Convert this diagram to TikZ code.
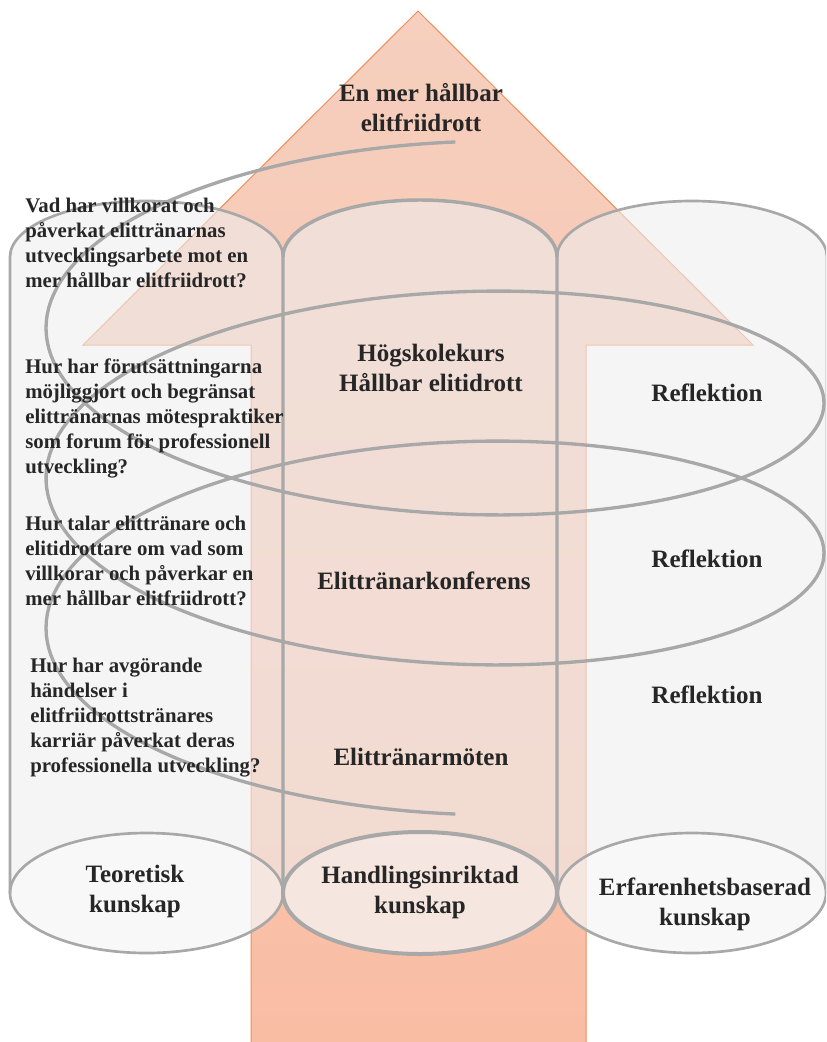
\documentclass[tikz,border=0pt]{standalone}
\usepackage{fontspec}
\setmainfont{Liberation Serif}
\begin{document}
\begin{tikzpicture}[x=0.75pt,y=-0.75pt]
\definecolor{ink}{RGB}{38,38,38}
\definecolor{rim}{RGB}{168,168,168}
\definecolor{arrowtop}{RGB}{246,207,190}
\definecolor{arrowbot}{RGB}{249,189,164}
\definecolor{arrowedge}{RGB}{240,140,90}
\definecolor{cylgray}{RGB}{238,238,238}
\tikzset{
  cylfill/.style={fill=cylgray, fill opacity=0.58},
  basefill/.style={fill=white, fill opacity=0.35},
  siderim/.style={draw=rim, line width=2pt},
  midrim/.style={draw=rim, line width=2.6pt},
  spiralline/.style={draw=rim, line width=2.5pt},
  label/.style={text=ink, inner sep=0pt, font=\bfseries\fontsize{18.75}{22.5}\selectfont, align=center, anchor=base},
  question/.style={text=ink, inner sep=0pt, font=\bfseries\fontsize{15.6}{18.75}\selectfont, align=left, anchor=base west},
}
\useasboundingbox (0,0) rectangle (826,1042);
\begin{scope}
\clip (0,0) rectangle (826,1042);
% upward arrow
\shade[top color=arrowtop, bottom color=arrowbot]
  (418,11) -- (753,345) -- (586,345) -- (586,1042) -- (251,1042) -- (251,345) -- (83,345) -- cycle;
\draw[arrowedge, line width=0.75pt]
  (251,1042) -- (251,345) -- (83,345) -- (418,11) -- (753,345) -- (586,345) -- (586,1042);
% cylinder bodies
\path[cylfill] (10,257) arc[start angle=180,end angle=360,x radius=136.5,y radius=56]
  -- (283,893) arc[start angle=0,end angle=180,x radius=136.5,y radius=60] -- cycle;
\path[cylfill] (283,257) arc[start angle=180,end angle=360,x radius=137,y radius=57]
  -- (557,893) arc[start angle=0,end angle=180,x radius=137,y radius=61] -- cycle;
\path[cylfill] (557,257) arc[start angle=180,end angle=360,x radius=135,y radius=56]
  -- (827,893) arc[start angle=0,end angle=180,x radius=135,y radius=60] -- cycle;
% bases
\path[basefill] (146.5,893) ellipse[x radius=136.5,y radius=60];
\path[basefill] (420,893) ellipse[x radius=137,y radius=61];
\path[basefill] (692,893) ellipse[x radius=134,y radius=60];
% descending spiral
\draw[spiralline, line cap=butt] plot[domain=-3:903, samples=400, variable=\t]
  ({435-389*sin(\t)}, {290.5+0.416667*\t-147.5*cos(\t)});
% cylinder outlines
\draw[siderim] (10,893) -- (10,257) arc[start angle=180,end angle=360,x radius=136.5,y radius=56];
\draw[siderim] (557,257) arc[start angle=180,end angle=360,x radius=135,y radius=56] -- (827,893);
\draw[midrim] (283,893) -- (283,257) arc[start angle=180,end angle=360,x radius=137,y radius=57] -- (557,893);
\draw[siderim] (146.5,893) ellipse[x radius=136.5,y radius=60];
\draw[siderim] (692,893) ellipse[x radius=134,y radius=60];
\draw[midrim, line width=3pt] (420,893) ellipse[x radius=137,y radius=61];
\end{scope}
% texts (anchored at the baseline of each last line)
\node[label] (goal) at (421,131.7) {En mer hållbar\\elitfriidrott};
\node[question] (q1) at (25,287) {Vad har villkorat och\\påverkat elittränarnas\\utvecklingsarbete mot en\\mer hållbar elitfriidrott?};
\node[question] (q2) at (25,473) {Hur har förutsättningarna\\möjliggjort och begränsat\\elittränarnas mötespraktiker\\som forum för professionell\\utveckling?};
\node[question] (q3) at (25,605) {Hur talar elittränare och\\elitidrottare om vad som\\villkorar och påverkar en\\mer hållbar elitfriidrott?};
\node[question] (q4) at (30,772) {Hur har avgörande\\händelser i\\elitfriidrottstränares\\karriär påverkat deras\\professionella utveckling?};
\node[label] (course) at (431,391) {Högskolekurs\\Hållbar elitidrott};
\node[label] (conf) at (424,589) {Elittränarkonferens};
\node[label] (meet) at (421,765) {Elittränarmöten};
\node[label] (refl1) at (707,401) {Reflektion};
\node[label] (refl2) at (707,567) {Reflektion};
\node[label] (refl3) at (707,703) {Reflektion};
\node[label] (theory) at (135,912) {Teoretisk\\kunskap};
\node[label] (action) at (420,913) {Handlingsinriktad\\kunskap};
\node[label] (exper) at (705,925) {Erfarenhetsbaserad\\kunskap};
\end{tikzpicture}
\end{document}
